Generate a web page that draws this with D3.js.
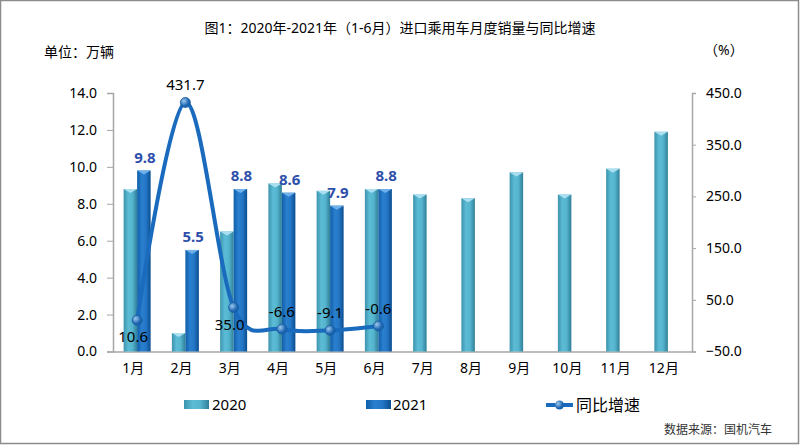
<!DOCTYPE html>
<html>
<head>
<meta charset="utf-8">
<script src="https://cdn.jsdelivr.net/npm/d3@7"></script>
<style>
  body { margin: 0; background: #fff; }
  text { font-family: "Noto Sans", "Noto Sans CJK SC", sans-serif; }
</style>
</head>
<body>
<svg id="chart"></svg>
<script>
// data
const months = ["1月", "2月", "3月", "4月", "5月", "6月", "7月", "8月", "9月", "10月", "11月", "12月"];
const sales2020 = [8.8, 1.0, 6.5, 9.1, 8.7, 8.8, 8.5, 8.3, 9.7, 8.5, 9.9, 11.9];
const sales2021 = [9.8, 5.5, 8.8, 8.6, 7.9, 8.8];
const growth = [10.6, 431.7, 35.0, -6.6, -9.1, -0.6];
const leftTicks = [0, 2, 4, 6, 8, 10, 12, 14];
const rightTicks = [-50, 50, 150, 250, 350, 450];

const W = 800, H = 447;
const plot = { left: 113, right: 692, top: 93, bottom: 351.5 };

const svg = d3.select("#chart").attr("width", W).attr("height", H);
const defs = svg.append("defs");

function hGrad(id, stops) {
  const g = defs.append("linearGradient").attr("id", id)
    .attr("x1", "0%").attr("x2", "100%").attr("y1", "0%").attr("y2", "0%");
  stops.forEach(([o, c]) => g.append("stop").attr("offset", o).attr("stop-color", c));
}
hGrad("g2020", [["0%", "#3d93ad"], ["35%", "#5cbcd5"], ["65%", "#55b4ce"], ["100%", "#2f7f97"]]);
hGrad("g2021", [["0%", "#0f5ea8"], ["35%", "#2a7fcf"], ["65%", "#2477c6"], ["100%", "#0b4d8f"]]);
const rg = defs.append("radialGradient").attr("id", "gDot").attr("cx", "35%").attr("cy", "35%");
rg.append("stop").attr("offset", "0%").attr("stop-color", "#9cc8ee");
rg.append("stop").attr("offset", "100%").attr("stop-color", "#1b64b0");

// frame
svg.append("rect").attr("x", 0.5).attr("y", 0.5).attr("width", W - 2).attr("height", H - 4)
  .attr("fill", "#fff").attr("stroke", "#8c8c8c").attr("stroke-width", 1.5);

const x = d3.scaleBand().domain(months).range([plot.left, plot.right]);
const yL = d3.scaleLinear().domain([0, 14]).range([plot.bottom, plot.top]);
const yR = d3.scaleLinear().domain([-50, 450]).range([plot.bottom, plot.top]);
const bw = 13.5;

// axes
const axisL = svg.append("g").attr("transform", `translate(${plot.left},0)`)
  .call(d3.axisLeft(yL).tickValues(leftTicks).tickFormat(d3.format(".1f")).tickSize(6).tickPadding(10));
const axisR = svg.append("g").attr("transform", `translate(${plot.right},0)`)
  .call(d3.axisRight(yR).tickValues(rightTicks).tickFormat(d3.format(".1f")).tickSize(4).tickPadding(10));
const axisB = svg.append("g").attr("transform", `translate(0,${plot.bottom})`)
  .call(d3.axisBottom(x).tickSize(0).tickPadding(12));
[axisL, axisR, axisB].forEach(a => {
  a.select(".domain").attr("stroke", "#a6a6a6").attr("stroke-width", 1.5);
  a.selectAll(".tick line").attr("stroke", "#a6a6a6");
  a.selectAll("text").attr("fill", "#000").attr("font-size", 14);
});
axisB.selectAll("text").attr("dx", -4).attr("font-family", "\"Noto Sans CJK SC\", sans-serif");

// bars
function drawBars(vals, cls, offset, grad, cap) {
  const g = svg.append("g").attr("class", cls);
  vals.forEach((v, i) => {
    const cx = x(months[i]) + x.bandwidth() / 2 + offset;
    const top = yL(v);
    g.append("rect").attr("x", cx).attr("y", top).attr("width", bw)
      .attr("height", plot.bottom - top).attr("fill", `url(#${grad})`);
    g.append("path")
      .attr("d", `M${cx},${top} L${cx + bw},${top} L${cx + bw / 2},${top + 4} Z`)
      .attr("fill", cap);
  });
}
drawBars(sales2020, "bars2020", -bw, "g2020", "#a9dff0");
drawBars(sales2021, "bars2021", 0, "g2021", "#6fb0ea");

// 2021 value labels
svg.append("g").selectAll("text").data(sales2021).join("text")
  .attr("x", (d, i) => x(months[i]) + x.bandwidth() / 2 + bw / 2 + 1)
  .attr("y", d => yL(d) - 8)
  .attr("text-anchor", "middle")
  .attr("font-size", 15).attr("font-weight", "bold").attr("fill", "#2e4faa")
  .text(d => d.toFixed(1));

// growth line
const pts = growth.map((v, i) => [x(months[i]) + x.bandwidth() / 2, yR(v)]);
svg.append("path").attr("d", d3.line().curve(d3.curveCatmullRom.alpha(0))(pts))
  .attr("fill", "none").attr("stroke", "#1a6bbd").attr("stroke-width", 4);
svg.append("g").selectAll("circle").data(pts).join("circle")
  .attr("cx", d => d[0]).attr("cy", d => d[1]).attr("r", 5)
  .attr("fill", "url(#gDot)").attr("stroke", "#165a9e").attr("stroke-width", 0.8);

// growth labels: below for first and third, above otherwise
const below = [true, false, true, false, false, false];
svg.append("g").selectAll("text").data(growth).join("text")
  .attr("x", (d, i) => pts[i][0] + (below[i] ? -4 : 0))
  .attr("y", (d, i) => below[i] ? pts[i][1] + 22 : pts[i][1] - 12)
  .attr("text-anchor", "middle").attr("font-size", 15).attr("fill", "#000")
  .text(d => d.toFixed(1));

// titles
svg.append("text").attr("x", 400).attr("y", 33).attr("text-anchor", "middle")
  .attr("font-size", 14).attr("font-family", "\"Noto Sans CJK SC\", sans-serif")
  .text("图1：2020年-2021年（1-6月）进口乘用车月度销量与同比增速");
svg.append("text").attr("x", 44).attr("y", 57).attr("font-size", 14)
  .attr("font-family", "\"Noto Sans CJK SC\", sans-serif").text("单位：万辆");
svg.append("text").attr("x", 704).attr("y", 55).attr("font-size", 14)
  .attr("font-family", "\"Noto Sans CJK SC\", sans-serif").text("（%）");

// legend
const lg = svg.append("g").attr("font-size", 15);
lg.append("rect").attr("x", 184).attr("y", 400).attr("width", 25).attr("height", 9).attr("fill", "url(#g2020)");
lg.append("text").attr("x", 212).attr("y", 410).text("2020");
lg.append("rect").attr("x", 366).attr("y", 400).attr("width", 25).attr("height", 9).attr("fill", "url(#g2021)");
lg.append("text").attr("x", 393).attr("y", 410).text("2021");
lg.append("line").attr("x1", 546).attr("x2", 573).attr("y1", 405).attr("y2", 405)
  .attr("stroke", "#1a6bbd").attr("stroke-width", 4);
lg.append("circle").attr("cx", 559.5).attr("cy", 405).attr("r", 4.5).attr("fill", "url(#gDot)");
lg.append("text").attr("x", 576).attr("y", 411).attr("font-size", 16)
  .attr("font-family", "\"Noto Sans CJK SC\", sans-serif").text("同比增速");

svg.append("text").attr("x", 772).attr("y", 434).attr("text-anchor", "end")
  .attr("font-size", 12).attr("fill", "#333").attr("font-family", "\"Noto Serif CJK SC\", \"Noto Sans CJK SC\", serif")
  .text("数据来源：国机汽车");
</script>
</body>
</html>
